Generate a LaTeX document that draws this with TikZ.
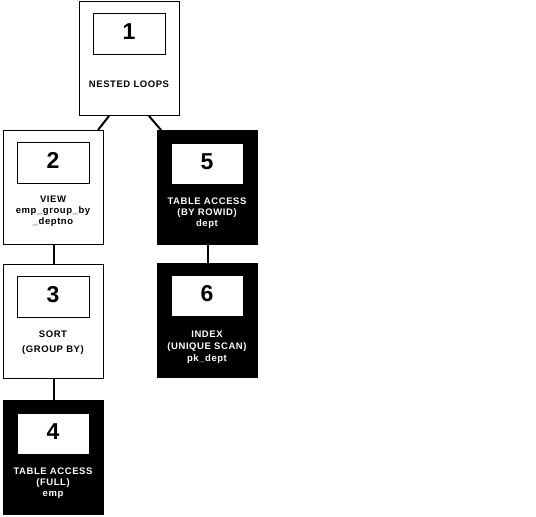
\documentclass[tikz,border=0pt]{standalone}
\usepackage{fontspec}
\setmainfont{Liberation Sans}
\newfontfamily\lblfont[LetterSpace=6]{Liberation Sans}
\begin{document}
\begin{tikzpicture}[x=1pt,y=-1pt,
  outerbox/.style={draw=black,line width=1pt,minimum width=100pt,minimum height=114pt,inner sep=0pt,anchor=north west},
  darkbox/.style={outerbox,fill=black},
  innerbox/.style={draw=black,line width=1pt,fill=white,minimum width=72pt,minimum height=41pt,inner sep=0pt,anchor=north west},
  numtext/.style={font=\fontsize{23}{23}\selectfont\bfseries,anchor=base,inner sep=0pt},
  lbl/.style={font=\lblfont\fontsize{9.5}{10}\selectfont\bfseries,anchor=base,inner sep=0pt},
  wlbl/.style={lbl,text=white},
  conn/.style={line width=2pt}]
\useasboundingbox (0,0) rectangle (536,517);
% boxes
\node[outerbox] (b1) at (79,1) {};
\node[outerbox] (b2) at (3,130) {};
\node[darkbox] (b5) at (157,130) {};
\node[outerbox] (b3) at (3,264) {};
\node[darkbox] (b6) at (157,263) {};
\node[darkbox] (b4) at (3,400) {};
% inner boxes
\node[innerbox] (i1) at (93,13) {};
\node[innerbox] (i2) at (17,142) {};
\node[innerbox] (i5) at (171,143) {};
\node[innerbox] (i3) at (17,276) {};
\node[innerbox] (i6) at (171,275) {};
\node[innerbox] (i4) at (17,413) {};
% numbers
\node[numtext] (n1) at (129,39) {1};
\node[numtext] (n2) at (53,168) {2};
\node[numtext] (n5) at (207,169) {5};
\node[numtext] (n3) at (53,302) {3};
\node[numtext] (n6) at (207,301) {6};
\node[numtext] (n4) at (53,439) {4};
% labels
\node[lbl] (t1) at (129,87) {NESTED LOOPS};
\node[lbl] (t2a) at (53,202) {VIEW};
\node[lbl] (t2b) at (53,213) {emp\_group\_by};
\node[lbl] (t2c) at (53,224) {\_deptno};
\node[wlbl] (t5a) at (207,204) {TABLE ACCESS};
\node[wlbl] (t5b) at (207,215) {(BY ROWID)};
\node[wlbl] (t5c) at (207,226) {dept};
\node[lbl] (t3a) at (53,337) {SORT};
\node[lbl] (t3b) at (53,352) {(GROUP BY)};
\node[wlbl] (t6a) at (207,337) {INDEX};
\node[wlbl] (t6b) at (207,349) {(UNIQUE SCAN)};
\node[wlbl] (t6c) at (207,361) {pk\_dept};
\node[wlbl] (t4a) at (53,474) {TABLE ACCESS};
\node[wlbl] (t4b) at (53,485) {(FULL)};
\node[wlbl] (t4c) at (53,496) {emp};
% connectors
\draw[conn] ([xshift=30pt]b1.south west) -- ([xshift=-6pt]b2.north east);
\draw[conn] ([xshift=-31pt]b1.south east) -- ([xshift=4pt]b5.north west);
\draw[conn] (b2.south) -- (b3.north);
\draw[conn] (b5.south) -- (b6.north);
\draw[conn] (b3.south) -- (b4.north);
\end{tikzpicture}
\end{document}
